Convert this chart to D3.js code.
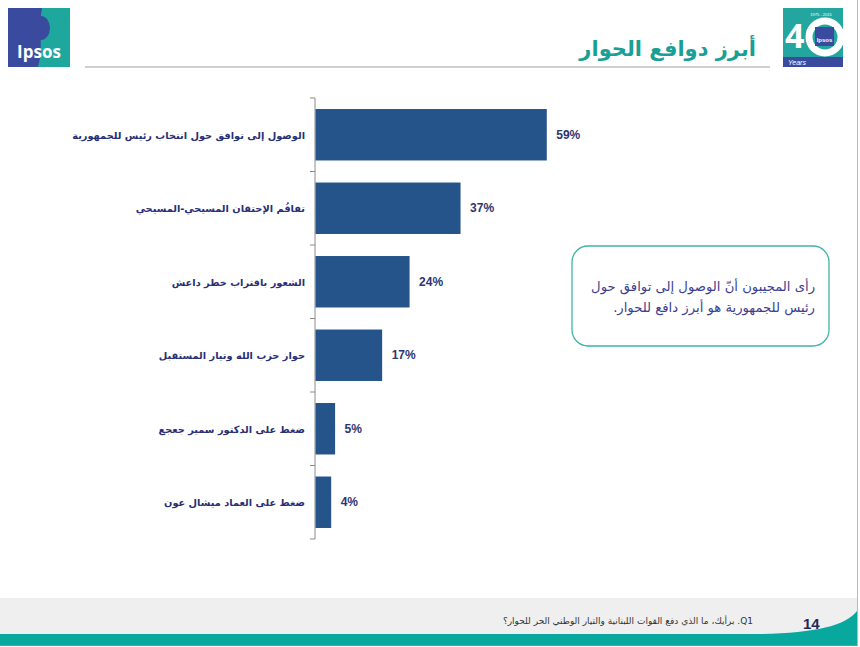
<!DOCTYPE html>
<html>
<head>
<meta charset="utf-8">
<script src="https://cdn.jsdelivr.net/npm/d3@7"></script>
<style>
  body { margin: 0; background: #fff; }
  svg { display: block; }
</style>
</head>
<body>
<div id="chart"></div>
<script>
// data
const categories = [
  "الوصول إلى توافق حول انتخاب رئيس للجمهورية",
  "تفاقُم الإحتقان المسيحي-المسيحي",
  "الشعور باقتراب خطر داعش",
  "حوار حزب الله وتيار المستقبل",
  "ضغط على الدكتور سمير جعجع",
  "ضغط على العماد ميشال عون"
];
const values = [59, 37, 24, 17, 5, 4];
const titleText = "أبرز دوافع الحوار";
const noteLines = [
  "رأى المجيبون أنّ الوصول إلى توافق حول",
  "رئيس للجمهورية هو أبرز دافع للحوار."
];
const questionText = "Q1. برأيك، ما الذي دفع القوات اللبنانية والتيار الوطني الحر للحوار؟";
const pageNumber = "14";

const W = 860, H = 647;
const arabicFont = "'DejaVu Sans', Tahoma, sans-serif";

const svg = d3.select("#chart").append("svg")
  .attr("width", W)
  .attr("height", H);

// ---- header ----
const logo = svg.append("g").attr("transform", "translate(8,8)");
logo.append("rect").attr("width", 62).attr("height", 59).attr("fill", "#1ea89d");
logo.append("path")
  .attr("d", "M0,0 L34,0 C30,20 36,40 30,59 L0,59 Z")
  .attr("fill", "#3a4b9f");
logo.append("ellipse").attr("cx", 33).attr("cy", 20).attr("rx", 9).attr("ry", 12).attr("fill", "#3a4b9f");
logo.append("text")
  .attr("x", 31).attr("y", 50)
  .attr("text-anchor", "middle")
  .attr("font-family", "'Open Sans', Arial, sans-serif")
  .attr("font-weight", "bold")
  .attr("font-size", 17)
  .attr("fill", "#fff")
  .text("Ipsos");

const logo40 = svg.append("g").attr("transform", "translate(783,8)");
logo40.append("rect").attr("width", 60).attr("height", 59).attr("fill", "#23a6a0");
logo40.append("rect").attr("y", 49).attr("width", 60).attr("height", 10).attr("fill", "#3a4b9f");
logo40.append("text")
  .attr("x", 2).attr("y", 40)
  .attr("font-family", "'Open Sans', Arial, sans-serif")
  .attr("font-weight", "bold")
  .attr("font-size", 34)
  .attr("fill", "#fff")
  .text("4");
logo40.append("circle").attr("cx", 42).attr("cy", 29).attr("r", 16)
  .attr("fill", "none").attr("stroke", "#fff").attr("stroke-width", 7);
logo40.append("rect").attr("x", 32).attr("y", 19).attr("width", 19).attr("height", 19).attr("fill", "#3a4b9f");
logo40.append("text")
  .attr("x", 41.5).attr("y", 34).attr("text-anchor", "middle")
  .attr("font-family", "Arial, sans-serif").attr("font-weight", "bold")
  .attr("font-size", 6).attr("fill", "#fff").text("Ipsos");
logo40.append("text")
  .attr("x", 38).attr("y", 8).attr("text-anchor", "middle")
  .attr("font-family", "Arial, sans-serif").attr("font-size", 4).attr("fill", "#fff")
  .text("1975 - 2015");
logo40.append("text")
  .attr("x", 5).attr("y", 57)
  .attr("font-family", "Arial, sans-serif").attr("font-style", "italic")
  .attr("font-size", 7).attr("fill", "#fff").text("Years");

svg.append("line")
  .attr("x1", 85).attr("x2", 770)
  .attr("y1", 67).attr("y2", 67)
  .attr("stroke", "#a0a0a0").attr("stroke-width", 1);

svg.append("text")
  .attr("x", 756).attr("y", 56)
  .attr("text-anchor", "end")
  .attr("font-family", arabicFont)
  .attr("font-weight", "bold")
  .attr("font-size", 21)
  .attr("fill", "#1a9f95")
  .text(titleText);

// ---- bar chart ----
const x = d3.scaleLinear().domain([0, 100]).range([315, 707]);
const y = d3.scaleBand().domain(categories).range([98, 539])
  .paddingInner(0.3).paddingOuter(0.15);

const axis = svg.append("g").attr("transform", `translate(${x(0)},0)`);
axis.append("line")
  .attr("y1", y.range()[0]).attr("y2", y.range()[1])
  .attr("stroke", "#8c8c8c");
const bounds = categories.map(c => y(c) - y.step() * 0.15).concat([y.range()[1]]);
axis.selectAll(".tick-mark").data(bounds).join("line")
  .attr("class", "tick-mark")
  .attr("x1", -5).attr("x2", 0)
  .attr("y1", d => d).attr("y2", d => d)
  .attr("stroke", "#8c8c8c");

svg.selectAll(".bar").data(values).join("rect")
  .attr("class", "bar")
  .attr("x", x(0) + 0.5)
  .attr("y", (d, i) => y(categories[i]))
  .attr("width", d => x(d) - x(0))
  .attr("height", y.bandwidth())
  .attr("fill", "#24548a");

svg.selectAll(".value").data(values).join("text")
  .attr("class", "value")
  .attr("x", d => x(d) + 10)
  .attr("y", (d, i) => y(categories[i]) + y.bandwidth() / 2 + 4)
  .attr("font-family", "Arial, 'Liberation Sans', sans-serif")
  .attr("font-weight", "bold")
  .attr("font-size", 12)
  .attr("fill", "#2c3572")
  .text(d => d + "%");

svg.selectAll(".cat").data(categories).join("text")
  .attr("class", "cat")
  .attr("x", 305)
  .attr("y", d => y(d) + y.bandwidth() / 2 + 4)
  .attr("direction", "rtl")
  .attr("text-anchor", "start")
  .attr("font-family", arabicFont)
  .attr("font-weight", "bold")
  .attr("font-size", 9.8)
  .attr("fill", "#282f74")
  .text(d => d);

// ---- callout ----
svg.append("rect")
  .attr("x", 572).attr("y", 246)
  .attr("width", 257).attr("height", 100)
  .attr("rx", 16)
  .attr("fill", "#fff")
  .attr("stroke", "#3fb3a7")
  .attr("stroke-width", 1.3);

svg.selectAll(".note").data(noteLines).join("text")
  .attr("class", "note")
  .attr("x", 815)
  .attr("y", (d, i) => 291 + i * 21)
  .attr("direction", "rtl")
  .attr("text-anchor", "start")
  .attr("font-family", arabicFont)
  .attr("font-size", 13.2)
  .attr("fill", "#3b3e90")
  .text(d => d);

// ---- footer ----
svg.append("rect")
  .attr("x", 0).attr("y", 598)
  .attr("width", 857).attr("height", 47)
  .attr("fill", "#efefef");
svg.append("path")
  .attr("d", "M0,634 L760,634 C815,633 845,626 857,611 L857,645 L0,645 Z")
  .attr("fill", "#08a89e");
svg.append("line")
  .attr("x1", 0).attr("x2", 857).attr("y1", 645.5).attr("y2", 645.5)
  .attr("stroke", "#8a8a8a");
svg.append("line")
  .attr("x1", 857.5).attr("x2", 857.5).attr("y1", 0).attr("y2", 646)
  .attr("stroke", "#b8b8b8");

svg.append("text")
  .attr("x", 753).attr("y", 624)
  .attr("direction", "rtl")
  .attr("text-anchor", "start")
  .attr("font-family", arabicFont)
  .attr("font-size", 9)
  .attr("fill", "#333")
  .text(questionText);

svg.append("text")
  .attr("x", 803).attr("y", 629)
  .attr("font-family", "Arial, 'Liberation Sans', sans-serif")
  .attr("font-weight", "bold")
  .attr("font-size", 15)
  .attr("fill", "#1f2a5c")
  .text(pageNumber);
</script>
</body>
</html>
